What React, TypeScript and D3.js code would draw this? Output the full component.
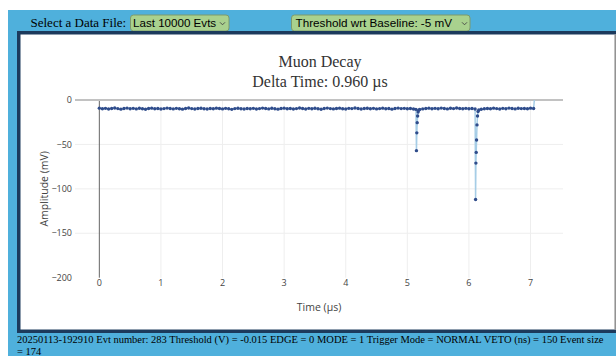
import React from "react";
import * as d3 from "d3";

// waveform samples (µs, mV)
const timeUs = [
  0.0, 0.05, 0.1, 0.15, 0.2, 0.25, 0.3, 0.35, 0.4, 0.45,
  0.5, 0.55, 0.6, 0.65, 0.7, 0.75, 0.8, 0.85, 0.9, 0.95,
  1.0, 1.05, 1.1, 1.15, 1.2, 1.25, 1.3, 1.35, 1.4, 1.45,
  1.5, 1.55, 1.6, 1.65, 1.7, 1.75, 1.8, 1.85, 1.9, 1.95,
  2.0, 2.05, 2.1, 2.15, 2.2, 2.25, 2.3, 2.35, 2.4, 2.45,
  2.5, 2.55, 2.6, 2.65, 2.7, 2.75, 2.8, 2.85, 2.9, 2.95,
  3.0, 3.05, 3.1, 3.15, 3.2, 3.25, 3.3, 3.35, 3.4, 3.45,
  3.5, 3.55, 3.6, 3.65, 3.7, 3.75, 3.8, 3.85, 3.9, 3.95,
  4.0, 4.05, 4.1, 4.15, 4.2, 4.25, 4.3, 4.35, 4.4, 4.45,
  4.5, 4.55, 4.6, 4.65, 4.7, 4.75, 4.8, 4.85, 4.9, 4.95,
  5.0, 5.05, 5.1,
  5.14, 5.148, 5.154, 5.16, 5.167, 5.175, 5.185,
  5.2, 5.25, 5.3, 5.35, 5.4, 5.45, 5.5, 5.55, 5.6, 5.65,
  5.7, 5.75, 5.8, 5.85, 5.9, 5.95, 6.0, 6.05,
  6.1, 6.108, 6.113, 6.118, 6.124, 6.131, 6.139, 6.148, 6.16,
  6.2, 6.25, 6.3, 6.35, 6.4, 6.45, 6.5, 6.55, 6.6, 6.65,
  6.7, 6.75, 6.8, 6.85, 6.9, 6.95, 7.0, 7.05,
  7.093,
];

const amplitudeMv = [
  -9.2, -9.8, -9.4, -10.1, -9.6, -9.0, -9.7, -10.3, -9.5, -9.1,
  -9.9, -9.4, -10.0, -9.3, -9.8, -10.4, -9.6, -9.2, -9.9, -9.5,
  -10.2, -9.7, -9.1, -9.6, -10.0, -9.4, -9.8, -10.3, -9.5, -9.0,
  -9.7, -10.1, -9.6, -9.3, -9.9, -10.2, -9.5, -9.8, -9.2, -9.6,
  -10.0, -9.4, -9.9, -10.5, -9.7, -9.3, -9.8, -10.1, -9.5, -9.9,
  -9.4, -10.2, -9.7, -9.1, -9.6, -10.0, -9.3, -9.8, -10.3, -9.6,
  -9.2, -9.9, -9.5, -10.1, -9.7, -9.0, -9.6, -10.2, -9.4, -9.8,
  -9.3, -9.9, -10.4, -9.5, -9.1, -9.7, -10.0, -9.6, -9.2, -9.8,
  -10.1, -9.4, -9.7, -9.0, -9.5, -10.2, -9.6, -9.3, -9.9, -9.4,
  -10.0, -9.7, -9.2, -9.8, -9.5, -10.3, -9.6, -9.1, -9.7, -9.4,
  -9.9, -9.5, -10.1,
  -10.6, -57.0, -37.0, -25.5, -18.0, -13.5, -11.5,
  -10.6, -10.0, -9.6, -9.2, -9.8, -9.4, -9.9, -9.1, -9.6, -10.0,
  -9.3, -9.7, -9.0, -9.5, -9.9, -9.4, -9.8, -9.5,
  -10.2, -112.0, -71.0, -59.0, -45.0, -28.0, -18.0, -13.0, -11.2,
  -10.4, -9.8, -9.5, -9.9, -9.2, -9.7, -10.1, -9.4, -9.8, -9.1,
  -9.6, -10.0, -9.3, -9.7, -9.5, -9.9, -9.2, -9.6,
  25.0,
];

const xTicks = [0, 1, 2, 3, 4, 5, 6, 7];
const yTicks = [0, -50, -100, -150, -200];

const titleLines = ["Muon Decay", "Delta Time: 0.960 µs"];
const fileLabel = "Select a Data File:";
const fileChoice = "Last 10000 Evts";
const thresholdChoice = "Threshold wrt Baseline: -5 mV";
const footerLines = [
  "20250113-192910 Evt number: 283 Threshold (V) = -0.015 EDGE = 0 MODE = 1 Trigger Mode = NORMAL VETO (ns) = 150 Event size",
  "= 174",
];

const plot = { left: 75, right: 563, top: 100, bottom: 277.7 };
const tickFont = "'Open Sans', 'DejaVu Sans', sans-serif";
const serif = "'Liberation Serif', 'Times New Roman', serif";
const sans = "'Liberation Sans', Arial, sans-serif";

function Chevron({ x, y }: { x: number; y: number }) {
  return (
    <path
      d={`M${x - 2.5},${y - 1.2} L${x},${y + 1.3} L${x + 2.5},${y - 1.2}`}
      fill="none"
      stroke="#444"
      strokeWidth={0.9}
    />
  );
}

export default function App() {
  const x = d3.scaleLinear().domain([-0.395, 7.527]).range([plot.left, plot.right]);
  const y = d3.scaleLinear().domain([-200, 0]).range([plot.bottom, plot.top]);

  const points = timeUs.map((t, i) => ({ t, v: amplitudeMv[i] }));
  const line = d3
    .line<{ t: number; v: number }>()
    .x((d) => x(d.t))
    .y((d) => y(d.v));

  const fmt = (v: number) => (v < 0 ? "\u2212" + Math.abs(v) : String(v));

  return (
    <svg
      width={616}
      height={356}
      style={{ position: "absolute", left: 0, top: 0, display: "block" }}
    >
      <defs>
        <clipPath id="plot-clip">
          <rect x={plot.left} y={plot.top} width={plot.right - plot.left} height={plot.bottom - plot.top} />
        </clipPath>
      </defs>

      {/* page background */}
      <rect x={8} y={10} width={608} height={346} fill="#4fb0dc" />

      {/* controls */}
      <text x={30.5} y={27} fontFamily={serif} fontSize={13} fill="#000">
        {fileLabel}
      </text>
      <rect x={130.5} y={15} width={98.5} height={16} rx={3} fill="#a9d18e" stroke="#7d9a6c" strokeWidth={1} />
      <text x={133} y={27} fontFamily={sans} fontSize={11.6} fill="#000">
        {fileChoice}
      </text>
      <Chevron x={222.5} y={23.5} />

      <rect x={291.5} y={15} width={178.5} height={16} rx={3} fill="#a9d18e" stroke="#7d9a6c" strokeWidth={1} />
      <text x={295.5} y={27} fontFamily={sans} fontSize={11.7} fill="#000">
        {thresholdChoice}
      </text>
      <Chevron x={464.5} y={23.5} />

      {/* chart frame */}
      <rect x={18.75} y={32.75} width={620} height={298.5} fill="#fff" stroke="#1c3a5c" strokeWidth={3.5} />
      <line x1={615.2} x2={615.2} y1={34.5} y2={329.5} stroke="#8e8e8e" strokeWidth={1.5} />

      {/* title */}
      {titleLines.map((s, i) => (
        <text key={s} x={320} y={66.7 + i * 20.6} textAnchor="middle" fontFamily={serif} fontSize={16} fill="#333">
          {s}
        </text>
      ))}

      {/* grid */}
      {xTicks
        .filter((t) => t !== 0)
        .map((t) => (
          <line key={"gx" + t} x1={x(t)} x2={x(t)} y1={plot.top} y2={plot.bottom} stroke="#eee" strokeWidth={1} />
        ))}
      {yTicks
        .filter((t) => t !== 0 && t !== -200)
        .map((t) => (
          <line key={"gy" + t} x1={plot.left} x2={plot.right} y1={y(t)} y2={y(t)} stroke="#eee" strokeWidth={1} />
        ))}

      {/* zero lines */}
      <line x1={x(0)} x2={x(0)} y1={plot.top} y2={plot.bottom} stroke="#666" strokeWidth={1} />
      <line x1={plot.left} x2={plot.right} y1={y(0)} y2={y(0)} stroke="#c2c2c2" strokeWidth={2} />

      {/* trace */}
      <g clipPath="url(#plot-clip)">
        <path d={line(points) ?? ""} fill="none" stroke="#a6cde6" strokeWidth={1.5} strokeLinejoin="round" />
        {points.map((d, i) => (
          <circle key={i} cx={x(d.t)} cy={y(d.v)} r={1.7} fill="#2f4c8b" />
        ))}
      </g>

      {/* tick labels */}
      {xTicks.map((t) => (
        <text key={"tx" + t} x={x(t)} y={286} textAnchor="middle" fontFamily={tickFont} fontSize={9} fill="#444">
          {t}
        </text>
      ))}
      {yTicks.map((t) => (
        <text key={"ty" + t} x={72} y={y(t) + 3.2} textAnchor="end" fontFamily={tickFont} fontSize={9} fill="#444">
          {fmt(t)}
        </text>
      ))}

      {/* axis titles */}
      <text x={(plot.left + plot.right) / 2} y={311} textAnchor="middle" fontFamily={tickFont} fontSize={10.5} fill="#444">
        Time (µs)
      </text>
      <text
        transform={`translate(48,${(plot.top + plot.bottom) / 2}) rotate(-90)`}
        textAnchor="middle"
        fontFamily={tickFont}
        fontSize={10.5}
        fill="#444"
      >
        Amplitude (mV)
      </text>

      {/* footer */}
      {footerLines.map((s, i) => (
        <text key={i} x={17} y={343.3 + i * 12} fontFamily={serif} fontSize={10.5} fill="#000">
          {s}
        </text>
      ))}
    </svg>
  );
}
